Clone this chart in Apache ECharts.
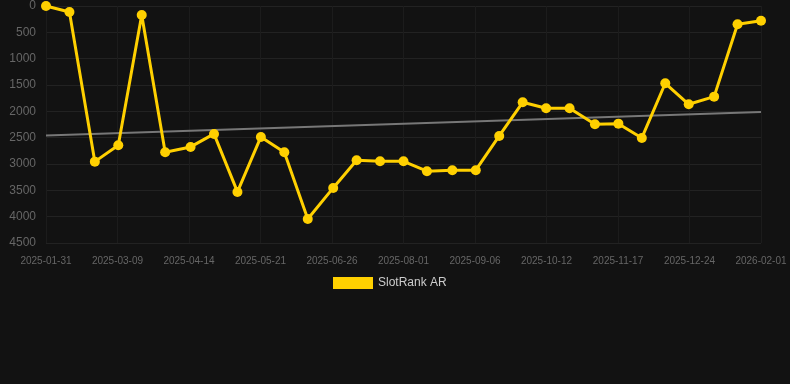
<!DOCTYPE html>
<html>
<head>
<meta charset="utf-8">
<script src="https://cdn.jsdelivr.net/npm/echarts@6/dist/echarts.min.js"></script>
<style>
html,body{margin:0;padding:0;background:#121212;}
#chart{width:790px;height:384px;}
</style>
</head>
<body>
<div id="chart"></div>
<script>
var dates = ['2025-01-31','2025-02-12','2025-02-25','2025-03-09','2025-03-21','2025-04-02','2025-04-15','2025-04-27','2025-05-09','2025-05-21','2025-06-02','2025-06-14','2025-06-27','2025-07-09','2025-07-21','2025-08-02','2025-08-14','2025-08-27','2025-09-08','2025-09-20','2025-10-02','2025-10-14','2025-10-26','2025-11-08','2025-11-20','2025-12-02','2025-12-14','2025-12-26','2026-01-08','2026-01-20','2026-02-01'];
var ranks = [0,114,2955,2644,171,2777,2676,2429,3530,2486,2777,4043,3454,2929,2948,2948,3137,3118,3118,2467,1828,1942,1942,2245,2234,2505,1467,1866,1721,347,279];
var trendDates = ['2025-01-31','2026-02-01'];
var trendValues = [2458, 2011];
var xTickLabels = ['2025-01-31','2025-03-09','2025-04-14','2025-05-21','2025-06-26','2025-08-01','2025-09-06','2025-10-12','2025-11-17','2025-12-24','2026-02-01'];
var yTicks = [0,500,1000,1500,2000,2500,3000,3500,4000,4500];

var startDate = '2025-01-31', endDate = '2026-02-01';
var DAY = 86400000;
function toX(d){ return Math.round((Date.parse(d) - Date.parse(startDate)) / DAY * 10); }
var xMax = toX(endDate);
var xStep = xMax / (xTickLabels.length - 1);

var chart = echarts.init(document.getElementById('chart'));
chart.setOption({
  backgroundColor: '#121212',
  animation: false,
  grid: {left: 46, right: 29, top: 6, bottom: 141, containLabel: false},
  legend: {
    data: ['SlotRank AR'],
    top: 272, left: 328,
    icon: 'rect', itemWidth: 40, itemHeight: 12, itemGap: 10,
    textStyle: {color: '#cccccc', fontSize: 12, fontFamily: 'Liberation Sans, Arial, sans-serif'}
  },
  xAxis: {
    type: 'value', min: 0, max: xMax, interval: xStep,
    axisLine: {show: false}, axisTick: {show: false},
    splitLine: {show: true, lineStyle: {color: '#1c1c1c', width: 1}},
    axisLabel: {
      color: '#666666', fontSize: 10, margin: 13, fontFamily: 'Liberation Sans, Arial, sans-serif',
      showMinLabel: true, showMaxLabel: true,
      formatter: function(v){ var i = Math.round(v / xStep); return xTickLabels[i] || ''; }
    }
  },
  yAxis: {
    type: 'value', inverse: true, min: yTicks[0], max: yTicks[yTicks.length-1], interval: yTicks[1]-yTicks[0],
    axisLine: {show: false}, axisTick: {show: false},
    splitLine: {show: true, lineStyle: {color: '#222222', width: 1}},
    axisLabel: {color: '#666666', fontSize: 12, margin: 10, fontFamily: 'Liberation Sans, Arial, sans-serif',
      formatter: function(v){ return String(v); }}
  },
  series: [
    {
      name: 'SlotRank AR', type: 'line',
      data: dates.map(function(d, i){ return [toX(d), ranks[i]]; }),
      symbol: 'circle', symbolSize: 10,
      lineStyle: {color: '#FFD000', width: 3},
      itemStyle: {color: '#FFD000'},
      z: 3
    },
    {
      name: 'trend', type: 'line',
      data: trendDates.map(function(d, i){ return [toX(d), trendValues[i]]; }),
      symbol: 'none',
      lineStyle: {color: '#777777', width: 2},
      z: 2
    }
  ]
});
</script>
</body>
</html>
